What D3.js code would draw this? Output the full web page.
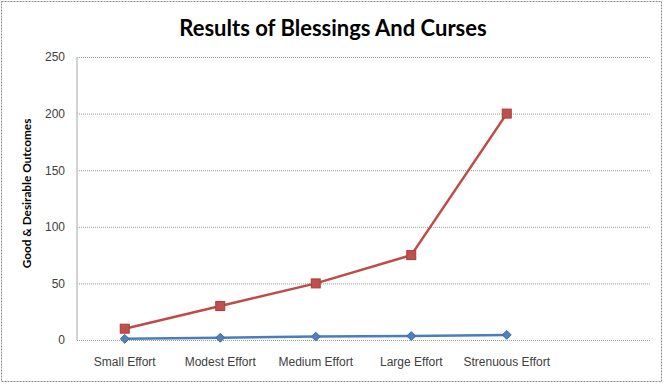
<!DOCTYPE html>
<html lang="en">
<head>
  <meta charset="UTF-8" />
  <title>Results of Blessings And Curses</title>
  <script src="https://d3js.org/d3.v7.min.js"></script>
  <style>
    body { margin: 0; background: #fff; }
    svg { display: block; font-family: Lato, "Open Sans", sans-serif; }
  </style>
</head>
<body>
  <svg width="665" height="384"></svg>
  <script>
    // data
    const categories = ["Small Effort", "Modest Effort", "Medium Effort", "Large Effort", "Strenuous Effort", ""];
    const curses = [10, 30, 50, 75, 200];
    const blessings = [1, 2, 3, 3.5, 4.5];
    const yTicks = [0, 50, 100, 150, 200, 250];

    const svg = d3.select("svg");
    const margin = { left: 77, right: 15, top: 57, bottom: 44 };
    const W = 665, H = 384;

    // dashed frame round the chart
    svg.append("rect")
      .attr("x", 1.5).attr("y", 1.5)
      .attr("width", 660).attr("height", 380)
      .attr("fill", "none").attr("stroke", "#8c8c8c")
      .attr("stroke-dasharray", "2,1");

    const x = d3.scaleBand()
      .domain(categories.map((c, i) => i))
      .range([margin.left, W - margin.right]);

    const y = d3.scaleLinear()
      .domain([0, 250])
      .range([H - margin.bottom, margin.top]);

    // gridlines
    svg.append("g")
      .selectAll("line")
      .data(yTicks)
      .enter().append("line")
      .attr("x1", margin.left).attr("x2", W - margin.right)
      .attr("y1", d => y(d) + 0.5).attr("y2", d => y(d) + 0.5)
      .attr("stroke", "#9a9a9a")
      .attr("stroke-dasharray", "1,1");

    // y axis line
    svg.append("line")
      .attr("x1", margin.left).attr("x2", margin.left)
      .attr("y1", y(250)).attr("y2", y(0))
      .attr("stroke", "#c4c4c4").attr("stroke-width", 1.5);

    const yAxis = svg.append("g")
      .attr("transform", `translate(${margin.left},0)`)
      .call(d3.axisLeft(y).tickValues(yTicks).tickSize(0).tickPadding(12));
    yAxis.select(".domain").remove();
    yAxis.selectAll("text")
      .attr("fill", "#404040")
      .style("font-size", "12px");

    const xAxis = svg.append("g")
      .attr("transform", `translate(0,${y(0)})`)
      .call(d3.axisBottom(x).tickFormat(i => categories[i]).tickSize(0).tickPadding(17));
    xAxis.select(".domain").remove();
    xAxis.selectAll("text")
      .attr("fill", "#404040")
      .style("font-size", "12px");

    // title
    svg.append("text")
      .attr("x", 333).attr("y", 36)
      .attr("text-anchor", "middle")
      .style("font-size", "22px").style("font-weight", "bold")
      .attr("fill", "#000")
      .text("Results of Blessings And Curses");

    svg.append("text")
      .attr("transform", `translate(31,${(y(0) + y(250)) / 2 - 5}) rotate(-90)`)
      .attr("text-anchor", "middle")
      .style("font-size", "11.8px").style("font-weight", "bold")
      .attr("fill", "#000")
      .text("Good & Desirable Outcomes");

    const cx = i => x(i) + x.bandwidth() / 2;
    const line = d3.line().x((d, i) => cx(i)).y(d => y(d));

    // blue series
    svg.append("path")
      .datum(blessings)
      .attr("d", line)
      .attr("fill", "none").attr("stroke", "#4a7ebb").attr("stroke-width", 2.5);
    svg.append("g")
      .selectAll("path")
      .data(blessings)
      .enter().append("path")
      .attr("d", d3.symbol(d3.symbolDiamond2, 50))
      .attr("transform", (d, i) => `translate(${cx(i)},${y(d)})`)
      .attr("fill", "#4f81bd").attr("stroke", "#3a6aa8").attr("stroke-width", 1);

    // red series
    svg.append("path")
      .datum(curses)
      .attr("d", line)
      .attr("fill", "none").attr("stroke", "#be4b48").attr("stroke-width", 2.5);
    svg.append("g")
      .selectAll("rect")
      .data(curses)
      .enter().append("rect")
      .attr("x", (d, i) => cx(i) - 4.5)
      .attr("y", d => y(d) - 4.5)
      .attr("width", 9).attr("height", 9)
      .attr("fill", "#c0504d").attr("stroke", "#a83e3b").attr("stroke-width", 1);
  </script>
</body>
</html>
